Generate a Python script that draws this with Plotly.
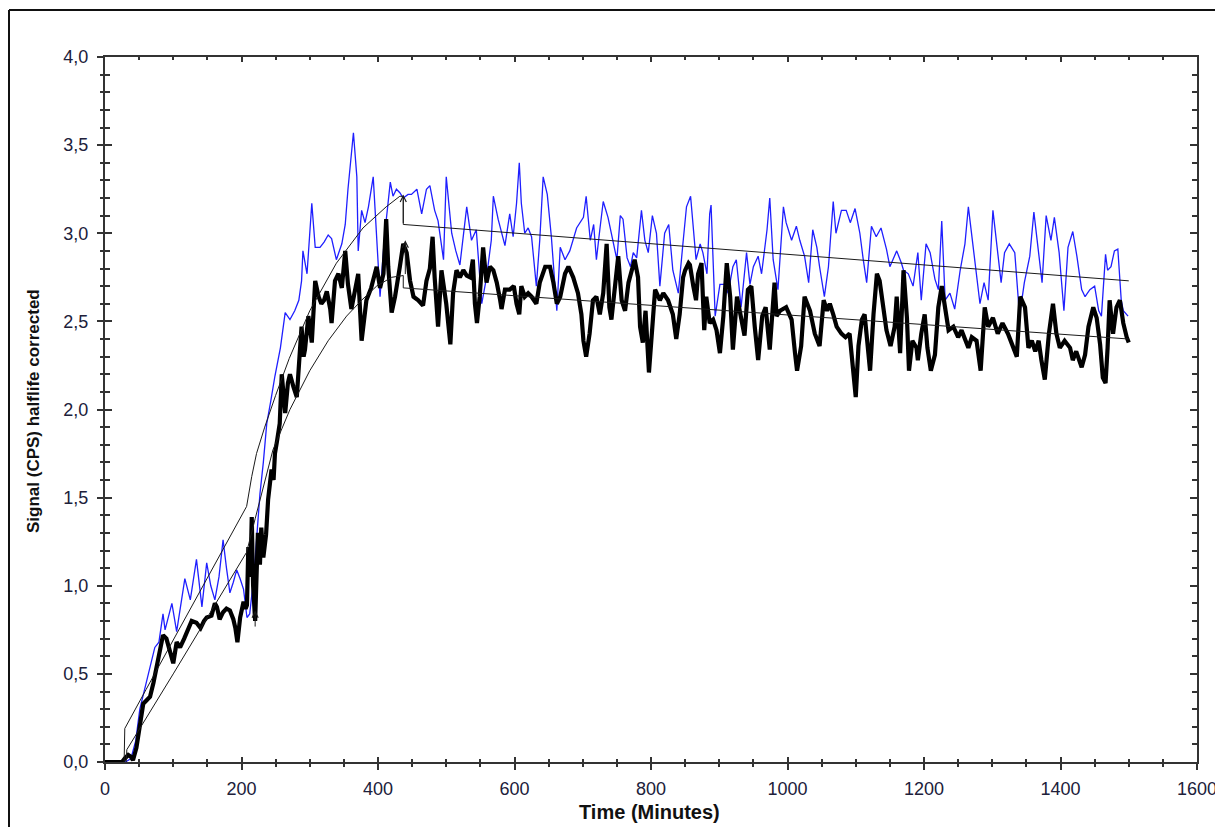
import plotly.graph_objects as go

# ---- data ----
blue_t = [0, 30, 38, 45, 51, 56, 61, 67, 73, 79, 85, 88, 93, 98, 105, 111, 117, 125, 134, 142, 149, 155, 161, 167, 173, 178, 183, 188, 193, 198, 203, 208, 212, 218, 223, 227, 232, 237, 243, 249, 257, 264, 271, 278, 284, 288, 290, 296, 303, 308, 315, 321, 327, 332, 339, 347, 352, 356, 364, 369, 371, 376, 381, 386, 393, 398, 403, 406, 410, 418, 422, 427, 432, 437, 444, 449, 457, 464, 471, 476, 483, 488, 496, 500, 508, 514, 520, 530, 537, 544, 549, 552, 559, 566, 569, 576, 586, 593, 598, 603, 607, 610, 615, 620, 625, 632, 637, 642, 648, 654, 662, 667, 674, 681, 691, 701, 705, 711, 716, 720, 725, 730, 737, 745, 750, 755, 759, 765, 770, 774, 779, 786, 791, 796, 802, 808, 813, 820, 826, 832, 840, 847, 852, 858, 862, 866, 872, 876, 882, 886, 888, 894, 901, 908, 913, 920, 925, 932, 940, 945, 950, 957, 962, 970, 974, 979, 986, 994, 998, 1006, 1013, 1018, 1025, 1031, 1037, 1043, 1047, 1054, 1060, 1067, 1071, 1079, 1086, 1092, 1099, 1106, 1111, 1116, 1123, 1130, 1137, 1145, 1150, 1160, 1167, 1170, 1177, 1184, 1191, 1196, 1203, 1209, 1216, 1221, 1226, 1231, 1238, 1245, 1253, 1260, 1265, 1270, 1275, 1282, 1288, 1294, 1301, 1306, 1313, 1318, 1325, 1333, 1340, 1347, 1355, 1361, 1367, 1373, 1379, 1386, 1391, 1398, 1405, 1411, 1418, 1424, 1431, 1436, 1443, 1450, 1456, 1460, 1466, 1469, 1474, 1479, 1484, 1489, 1492, 1499]
blue_v = [0, 0, 0.02, 0.12, 0.30, 0.38, 0.47, 0.55, 0.65, 0.68, 0.84, 0.75, 0.82, 0.90, 0.74, 0.90, 1.04, 0.92, 1.15, 0.88, 1.13, 1.00, 0.92, 1.05, 1.26, 1.10, 0.96, 1.02, 1.09, 1.04, 0.98, 0.82, 0.84, 1.05, 1.30, 1.52, 1.70, 1.92, 2.05, 2.19, 2.35, 2.55, 2.51, 2.56, 2.62, 2.73, 2.90, 2.77, 3.17, 2.92, 2.92, 2.95, 2.99, 2.97, 2.85, 2.94, 3.05, 3.25, 3.57, 3.32, 2.90, 3.13, 3.06, 3.15, 3.32, 3.00, 2.64, 2.80, 3.00, 3.29, 3.21, 3.25, 3.23, 3.20, 3.22, 3.22, 3.25, 3.11, 3.25, 3.27, 3.13, 3.07, 2.85, 3.32, 3.00, 2.90, 2.82, 3.15, 2.96, 3.02, 2.75, 2.60, 2.75, 2.96, 3.21, 3.08, 2.93, 3.11, 2.98, 3.17, 3.40, 3.17, 3.00, 3.03, 2.98, 2.70, 2.96, 3.32, 3.22, 2.98, 2.56, 2.92, 2.85, 2.90, 3.03, 3.09, 3.21, 2.96, 3.05, 2.85, 3.02, 3.18, 3.09, 2.94, 2.85, 3.10, 3.08, 2.86, 2.81, 2.89, 2.86, 3.13, 2.96, 2.89, 3.10, 3.00, 2.70, 3.00, 3.05, 2.79, 2.66, 2.95, 3.15, 3.21, 3.02, 2.85, 2.94, 2.89, 2.77, 3.11, 3.16, 2.53, 2.71, 2.71, 2.66, 2.81, 2.85, 2.58, 2.89, 2.71, 2.81, 2.87, 2.77, 3.02, 3.20, 2.85, 2.68, 3.15, 3.06, 2.96, 3.04, 2.96, 2.87, 2.72, 3.02, 2.92, 2.81, 2.64, 2.81, 3.18, 3.00, 3.13, 3.13, 3.06, 3.14, 3.00, 2.85, 2.72, 3.04, 2.98, 3.03, 2.91, 2.81, 2.90, 2.83, 2.79, 2.77, 2.70, 2.89, 2.62, 2.94, 2.89, 2.74, 2.68, 3.07, 2.62, 2.66, 2.57, 2.79, 2.94, 3.15, 2.98, 2.81, 2.60, 2.72, 2.62, 3.13, 2.96, 2.72, 2.89, 2.94, 2.89, 2.53, 2.72, 2.87, 3.12, 2.92, 2.72, 3.10, 2.96, 3.09, 2.89, 2.56, 2.92, 3.01, 2.87, 2.68, 2.64, 2.68, 2.70, 2.56, 2.53, 2.88, 2.79, 2.81, 2.90, 2.91, 2.62, 2.56, 2.53]

black_t = [0, 25, 29, 34, 38, 41, 46, 51, 56, 61, 66, 71, 76, 81, 85, 90, 95, 100, 105, 110, 116, 122, 127, 134, 140, 145, 149, 156, 161, 164, 168, 173, 178, 183, 188, 191, 194, 198, 203, 206, 208, 210, 213, 215, 217, 220, 222, 224, 227, 229, 232, 236, 239, 242, 244, 247, 249, 252, 256, 259, 262, 264, 268, 271, 276, 281, 285, 288, 291, 293, 298, 303, 308, 313, 317, 321, 325, 330, 332, 337, 342, 347, 352, 356, 361, 366, 371, 376, 380, 383, 390, 394, 398, 403, 408, 412, 415, 420, 425, 432, 437, 442, 447, 452, 459, 466, 471, 476, 480, 483, 488, 493, 500, 506, 510, 515, 520, 525, 530, 535, 539, 542, 545, 549, 554, 559, 564, 569, 574, 579, 581, 586, 593, 599, 603, 607, 610, 615, 620, 625, 632, 637, 645, 652, 657, 662, 667, 674, 679, 686, 693, 698, 701, 705, 710, 715, 720, 725, 730, 735, 739, 742, 747, 752, 757, 762, 767, 771, 776, 781, 784, 788, 792, 797, 801, 806, 813, 818, 825, 832, 837, 842, 847, 850, 855, 857, 862, 866, 869, 874, 878, 881, 886, 891, 896, 901, 906, 911, 916, 920, 926, 931, 937, 942, 947, 952, 957, 963, 968, 974, 981, 984, 989, 998, 1006, 1011, 1014, 1020, 1025, 1033, 1040, 1047, 1053, 1058, 1062, 1067, 1072, 1079, 1085, 1091, 1096, 1100, 1104, 1109, 1113, 1117, 1121, 1126, 1131, 1135, 1140, 1145, 1151, 1157, 1160, 1165, 1170, 1175, 1178, 1183, 1189, 1191, 1196, 1201, 1205, 1210, 1216, 1221, 1226, 1231, 1236, 1243, 1250, 1255, 1265, 1270, 1277, 1283, 1289, 1294, 1301, 1308, 1315, 1323, 1330, 1336, 1341, 1348, 1353, 1358, 1363, 1368, 1372, 1377, 1383, 1389, 1394, 1399, 1406, 1414, 1418, 1423, 1431, 1436, 1441, 1448, 1453, 1458, 1462, 1466, 1469, 1472, 1477, 1482, 1487, 1492, 1497, 1500]
black_v = [0, 0, 0.02, 0.04, 0.03, 0.01, 0.08, 0.20, 0.33, 0.35, 0.37, 0.45, 0.54, 0.62, 0.72, 0.70, 0.62, 0.56, 0.68, 0.65, 0.70, 0.75, 0.80, 0.79, 0.76, 0.80, 0.82, 0.83, 0.90, 0.88, 0.81, 0.85, 0.87, 0.86, 0.81, 0.76, 0.68, 0.82, 0.91, 0.87, 0.89, 1.22, 1.05, 1.39, 1.00, 0.80, 1.15, 1.30, 1.12, 1.33, 1.16, 1.29, 1.49, 1.58, 1.66, 1.60, 1.75, 1.82, 1.92, 2.20, 2.05, 1.98, 2.15, 2.20, 2.13, 2.07, 2.30, 2.47, 2.30, 2.34, 2.53, 2.38, 2.73, 2.64, 2.60, 2.62, 2.67, 2.57, 2.49, 2.73, 2.77, 2.69, 2.90, 2.71, 2.57, 2.67, 2.77, 2.39, 2.55, 2.62, 2.69, 2.74, 2.81, 2.69, 2.77, 3.08, 2.81, 2.55, 2.64, 2.81, 2.94, 2.89, 2.73, 2.64, 2.62, 2.59, 2.73, 2.80, 2.98, 2.75, 2.47, 2.79, 2.60, 2.37, 2.66, 2.79, 2.75, 2.79, 2.76, 2.75, 2.85, 2.60, 2.49, 2.64, 2.92, 2.72, 2.81, 2.79, 2.72, 2.62, 2.57, 2.68, 2.68, 2.70, 2.60, 2.54, 2.70, 2.64, 2.66, 2.64, 2.60, 2.72, 2.81, 2.81, 2.72, 2.60, 2.64, 2.77, 2.81, 2.75, 2.66, 2.54, 2.39, 2.30, 2.43, 2.62, 2.64, 2.54, 2.66, 2.94, 2.58, 2.51, 2.72, 2.87, 2.62, 2.56, 2.72, 2.79, 2.85, 2.75, 2.47, 2.38, 2.56, 2.21, 2.45, 2.68, 2.62, 2.66, 2.62, 2.54, 2.40, 2.54, 2.75, 2.79, 2.83, 2.82, 2.70, 2.62, 2.77, 2.83, 2.45, 2.64, 2.49, 2.51, 2.45, 2.32, 2.53, 2.83, 2.64, 2.34, 2.64, 2.53, 2.42, 2.68, 2.70, 2.47, 2.28, 2.53, 2.58, 2.34, 2.72, 2.53, 2.56, 2.58, 2.51, 2.32, 2.22, 2.36, 2.64, 2.56, 2.43, 2.36, 2.62, 2.56, 2.60, 2.54, 2.47, 2.43, 2.41, 2.43, 2.24, 2.07, 2.36, 2.51, 2.54, 2.40, 2.22, 2.54, 2.77, 2.73, 2.58, 2.45, 2.36, 2.47, 2.64, 2.32, 2.79, 2.52, 2.22, 2.39, 2.35, 2.28, 2.43, 2.54, 2.35, 2.22, 2.31, 2.58, 2.70, 2.58, 2.45, 2.47, 2.41, 2.45, 2.35, 2.41, 2.39, 2.22, 2.58, 2.47, 2.52, 2.43, 2.49, 2.43, 2.35, 2.30, 2.64, 2.58, 2.35, 2.39, 2.33, 2.39, 2.28, 2.17, 2.43, 2.60, 2.43, 2.35, 2.39, 2.35, 2.28, 2.33, 2.24, 2.31, 2.47, 2.58, 2.52, 2.37, 2.18, 2.15, 2.35, 2.62, 2.43, 2.58, 2.62, 2.49, 2.41, 2.38]

fitA_t = [28, 29, 60, 100, 150, 207.5, 215, 222, 234, 250, 270, 300, 339, 378, 412, 432, 437, 437, 1500]
fitA_v = [0, 0.19, 0.41, 0.69, 1.04, 1.45, 1.62, 1.75, 1.90, 2.08, 2.29, 2.56, 2.83, 3.03, 3.15, 3.21, 3.21, 3.05, 2.73]

fitB_t = [31, 32, 100, 150, 207.5, 220, 233, 246, 271, 300, 327, 354, 376, 398, 420, 432, 437, 437, 1500]
fitB_v = [0, 0.07, 0.50, 0.82, 1.19, 1.38, 1.58, 1.77, 2.00, 2.22, 2.39, 2.53, 2.62, 2.70, 2.75, 2.76, 2.76, 2.69, 2.40]

# marker arrows (time, base value, tip value)
arrow_t = [437, 440, 220]
arrow_base = [3.05, 2.76, 0.76]
arrow_tip = [3.22, 2.96, 0.86]

x_ticks = [0, 200, 400, 600, 800, 1000, 1200, 1400, 1600]
y_ticks = [0.0, 0.5, 1.0, 1.5, 2.0, 2.5, 3.0, 3.5, 4.0]

# ---- figure (page body margin of 8px is compensated) ----
OFF = 8
W, H = 1223 - OFF, 827 - OFF
L, R, T, B = 105 - OFF, 26, 57 - OFF, 65
pw, ph = W - L - R, H - T - B

def px_x(px):
    return (px - OFF - L) / pw

def px_y(py):
    return (H - B - (py - OFF)) / ph

fig = go.Figure()
fig.add_trace(go.Scatter(x=blue_t, y=blue_v, mode="lines",
                         line=dict(color="#1f1fff", width=1.3), showlegend=False, hoverinfo="skip"))
fig.add_trace(go.Scatter(x=black_t, y=black_v, mode="lines",
                         line=dict(color="#000000", width=4.2), showlegend=False, hoverinfo="skip"))
fig.add_trace(go.Scatter(x=fitA_t, y=fitA_v, mode="lines",
                         line=dict(color="#1a1a1a", width=1), showlegend=False, hoverinfo="skip"))
fig.add_trace(go.Scatter(x=fitB_t, y=fitB_v, mode="lines",
                         line=dict(color="#1a1a1a", width=1), showlegend=False, hoverinfo="skip"))
# empty trace to host the overlay axes (outside tick halves)
fig.add_trace(go.Scatter(x=[], y=[], xaxis="x2", yaxis="y2", showlegend=False, hoverinfo="skip"))

for t, b0, b1 in zip(arrow_t, arrow_base, arrow_tip):
    fig.add_annotation(x=t, y=b1, ax=t, ay=b0, axref="x", ayref="y", xref="x", yref="y",
                       showarrow=True, arrowhead=5, arrowsize=1.2, arrowwidth=1,
                       arrowcolor="#1a1a1a", text="")

tickfont = dict(family="Liberation Sans, Arial, sans-serif", size=18, color="#20203a")
axcol = "#333333"

fig.update_layout(
    width=W, height=H,
    margin=dict(l=L, r=R, t=T, b=B, autoexpand=False),
    paper_bgcolor="white", plot_bgcolor="white",
    separators=",.",
    xaxis=dict(range=[0, 1600], tickvals=x_ticks, tickformat="d", ticks="inside", ticklen=5,
               tickwidth=1.5, tickcolor=axcol, mirror="ticks", showline=True, linecolor=axcol,
               linewidth=2, showgrid=False, zeroline=False, tickfont=tickfont,
               ticklabelstandoff=9,
               minor=dict(dtick=50, tick0=0, ticks="inside", ticklen=3, tickwidth=1.5, tickcolor=axcol)),
    yaxis=dict(range=[0, 4], tickvals=y_ticks, tickformat=".1f", ticks="inside", ticklen=7,
               tickwidth=1.5, tickcolor=axcol, mirror="ticks", showline=True, linecolor=axcol,
               linewidth=2, showgrid=False, zeroline=False, tickfont=tickfont,
               ticklabelstandoff=11,
               minor=dict(dtick=0.1, tick0=0, ticks="inside", ticklen=5, tickwidth=1.5, tickcolor=axcol)),
    xaxis2=dict(range=[0, 1600], overlaying="x", side="bottom", tickvals=x_ticks, ticks="outside",
                ticklen=7, tickwidth=1.5, tickcolor=axcol, showticklabels=False, showline=False,
                showgrid=False, zeroline=False,
                minor=dict(dtick=50, tick0=0, ticks="outside", ticklen=4, tickwidth=1.5, tickcolor=axcol)),
    yaxis2=dict(range=[0, 4], overlaying="y", side="left", tickvals=y_ticks, ticks="outside",
                ticklen=7, tickwidth=1.5, tickcolor=axcol, showticklabels=False, showline=False,
                showgrid=False, zeroline=False,
                minor=dict(dtick=0.1, tick0=0, ticks="outside", ticklen=4, tickwidth=1.5, tickcolor=axcol)),
)

# axis titles
fig.add_annotation(xref="paper", yref="paper", x=px_x(649), y=px_y(812),
                   text="<b>Time (Minutes)</b>", showarrow=False, xanchor="center", yanchor="middle",
                   font=dict(family="Liberation Sans, Arial, sans-serif", size=20, color="#111"))
fig.add_annotation(xref="paper", yref="paper", x=px_x(33), y=px_y(411),
                   text="<b>Signal (CPS) halflife corrected</b>", showarrow=False, textangle=-90,
                   xanchor="center", yanchor="middle",
                   font=dict(family="Liberation Sans, Arial, sans-serif", size=17, color="#111"))

# outer frame (left and top edges visible)
fx0 = px_x(9)
fy1 = px_y(10)
fig.add_shape(type="line", xref="paper", yref="paper", x0=fx0, x1=fx0, y0=fy1, y1=-0.2,
              line=dict(color="#111", width=2))
fig.add_shape(type="line", xref="paper", yref="paper", x0=fx0, x1=1.1, y0=fy1, y1=fy1,
              line=dict(color="#111", width=2))

fig.write_html("out.html")
